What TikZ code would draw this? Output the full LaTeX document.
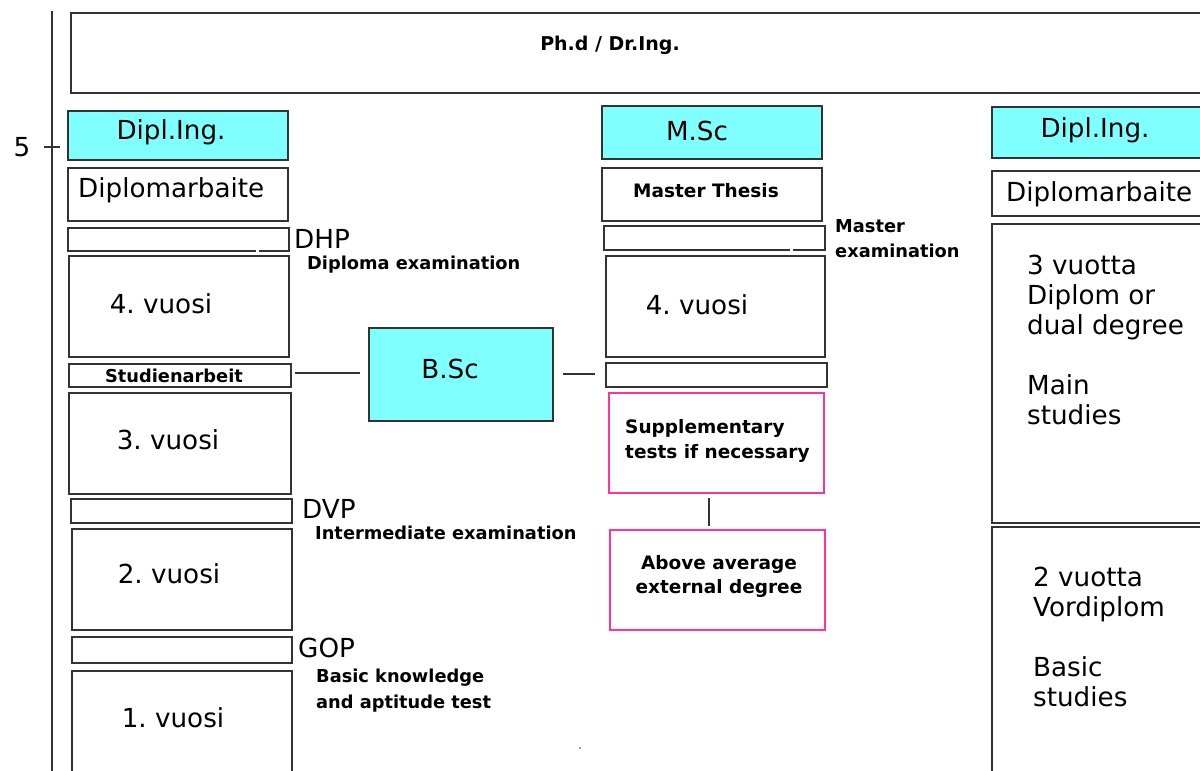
\documentclass[tikz,border=0pt]{standalone}
\usepackage{fontspec}
\setmainfont{DejaVu Sans}
\usetikzlibrary{calc}
\definecolor{cyanfill}{HTML}{80FFFF}
\definecolor{pinkline}{HTML}{FF3399}
\definecolor{edge}{HTML}{333333}
\frenchspacing

\tikzset{
  box/.style={draw=edge, line width=1.5pt, fill=white, inner sep=0pt, outer sep=0pt, anchor=north west},
  degree/.style={box, fill=cyanfill},
  pinkbox/.style={box, draw=pinkline},
  big/.style={font=\fontsize{26.2}{30}\selectfont, inner sep=0pt, anchor=base, text=black},
  bigl/.style={big, anchor=base west},
  small/.style={font=\bfseries\fontsize{17.8}{21}\selectfont, inner sep=0pt, anchor=base west, text=black},
  smallc/.style={small, anchor=base},
  tiny/.style={font=\bfseries\fontsize{18.5}{22}\selectfont, inner sep=0pt, anchor=base west, text=black},
  tinyc/.style={tiny, anchor=base},
  conn/.style={draw=edge, line width=1.3pt},
}
% \pbox{style}{name}{x}{y}{width}{height}
\newcommand\pbox[6]{\node[#1, minimum width=#5pt, minimum height=#6pt] (#2) at (#3,#4) {};}

\begin{document}
\begin{tikzpicture}[x=1pt,y=-1pt]
\useasboundingbox (0,0) rectangle (1200,771);
\clip (0,0) rectangle (1200,771);

% year axis
\coordinate (axtop) at (52,11);
\coordinate (axbot) at (52,771);
\coordinate (tickl) at (44,147);
\coordinate (tickr) at (60,147);
\draw[conn] (axtop) -- (axbot);
\draw[conn] (tickl) -- (tickr);
\node[big] (yr5) at (22,156) {5};

% doctorate
\pbox{box}{phd}{71}{13}{1160}{80}
\node[tinyc, font=\bfseries\fontsize{19}{22}\selectfont] (t-phd) at (610,50) {Ph.d / Dr.Ing.};

% Diplom column
\pbox{degree}{dl}{68}{111}{220}{49}
\pbox{box}{dlarb}{68}{168}{220}{53}
\pbox{box}{dhp}{68}{228}{221}{23}
\pbox{box}{v4l}{69}{256}{220}{101}
\pbox{box}{stud}{69}{364}{222}{23}
\pbox{box}{v3l}{69}{393}{222}{101}
\pbox{box}{dvp}{71}{499}{221}{24}
\pbox{box}{v2l}{72}{529}{220}{101}
\pbox{box}{gop}{72}{637}{220}{26}
\pbox{box}{v1l}{72}{671}{220}{130}
\draw[white, line width=2pt] ($(dhp.south west)+(188,0)$) -- ($(dhp.south west)+(191,0)$);

\node[big] (t-dl) at (171,139) {Dipl.Ing.};
\node[bigl] (t-dlarb) at (78,197) {Diplomarbaite};
\node[bigl] (t-dhp) at (294,248) {DHP};
\node[small] (t-dhpx) at (307,269) {Diploma examination};
\node[big] (t-v4l) at (161,313) {4. vuosi};
\node[smallc] (t-stud) at (174,382) {Studienarbeit};
\node[big] (t-v3l) at (168,449) {3. vuosi};
\node[bigl] (t-dvp) at (302,518) {DVP};
\node[small] (t-dvpx) at (315,539) {Intermediate examination};
\node[big] (t-v2l) at (169,583) {2. vuosi};
\node[bigl] (t-gop) at (298,657) {GOP};
\node[small] (t-gopx1) at (316,682) {Basic knowledge};
\node[small] (t-gopx2) at (316,708) {and aptitude test};
\node[big] (t-v1l) at (173,727) {1. vuosi};

% bachelor
\pbox{degree}{bsc}{369}{328}{184}{93}
\node[big] (t-bsc) at (450,378) {B.Sc};

% Master column
\pbox{degree}{msc}{602}{106}{220}{53}
\pbox{box}{mth}{602}{168}{220}{53}
\pbox{box}{mex}{604}{226}{221}{24}
\pbox{box}{v4m}{606}{256}{219}{101}
\pbox{box}{mbar}{606}{363}{221}{24}
\pbox{pinkbox}{supp}{609}{393}{215}{100}
\pbox{pinkbox}{above}{610}{530}{215}{100}
\draw[white, line width=2pt] ($(mex.south west)+(186,0)$) -- ($(mex.south west)+(189,0)$);

\node[big] (t-msc) at (697,140) {M.Sc};
\node[tinyc] (t-mth) at (706,197) {Master Thesis};
\node[small] (t-mex1) at (835,232) {Master};
\node[small] (t-mex2) at (835,257) {examination};
\node[big] (t-v4m) at (697,314) {4. vuosi};
\node[tiny] (t-supp1) at (625,433) {Supplementary};
\node[tiny] (t-supp2) at (625,458) {tests if necessary};
\node[tinyc] (t-above1) at (719,569) {Above average};
\node[tinyc] (t-above2) at (719,593) {external degree};

% connectors
\draw[conn, shorten <=4pt, shorten >=9pt] ($(stud.east)+(0,-2.5)$) -- ($(bsc.west |- stud.east)+(0,-2.5)$);
\draw[conn, shorten <=10pt, shorten >=11pt] ($(bsc.east |- mbar.west)+(0,-1)$) -- ($(mbar.west)+(0,-1)$);
\draw[conn, shorten <=5pt, shorten >=4pt] ($(supp.south)+(-7.5,0)$) -- ($(above.north)+(-8.5,0)$);

% Diplom column, alternative layout
\pbox{degree}{dr}{992}{107}{240}{51}
\pbox{box}{drarb}{992}{171}{240}{45}
\pbox{box}{mainst}{992}{224}{240}{299}
\pbox{box}{basicst}{992}{527}{240}{270}

\node[big] (t-dr) at (1095,137) {Dipl.Ing.};
\node[bigl] (t-drarb) at (1006,201) {Diplomarbaite};
\node[bigl] (t-m1) at (1027,274) {3 vuotta};
\node[bigl] (t-m2) at (1027,304) {Diplom or};
\node[bigl] (t-m3) at (1027,334) {dual degree};
\node[bigl] (t-m4) at (1027,394) {Main};
\node[bigl] (t-m5) at (1027,424) {studies};
\node[bigl] (t-b1) at (1033,586) {2 vuotta};
\node[bigl] (t-b2) at (1033,616) {Vordiplom};
\node[bigl] (t-b3) at (1033,676) {Basic};
\node[bigl] (t-b4) at (1033,706) {studies};

% stray dot
\fill[edge] (580,748) circle (0.8);
\end{tikzpicture}
\end{document}
